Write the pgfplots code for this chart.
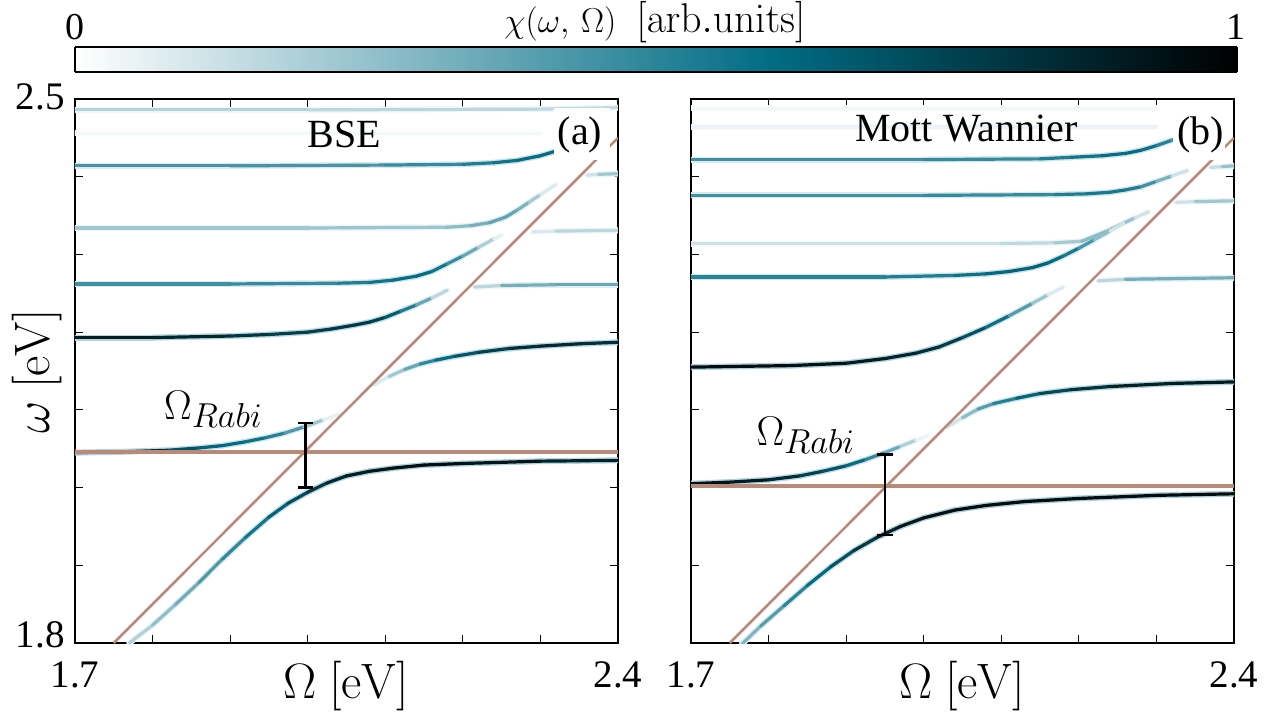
\documentclass[border=0pt]{standalone}
\usepackage[no-math]{fontspec}
\setmainfont{Liberation Serif}
\usepackage{pgfplots}
\usepackage{pgfplotstable}
\pgfplotsset{compat=1.18}
\definecolor{brn}{RGB}{183,138,122}
\pgfplotsset{colormap={chi}{rgb255(0cm)=(255,255,255) rgb255(6cm)=(0,108,132) rgb255(10cm)=(0,0,0)}}
\newcommand\tf{\fontsize{19.5}{22}\selectfont}
\newcommand\pf{\fontsize{20}{23}\selectfont}
\newcommand\lf{\fontsize{25}{28}\selectfont}
\newcommand\rabi{{\fontsize{20}{22}\selectfont$\Omega$}\raisebox{-4pt}{\fontsize{18.5}{20}\selectfont$Rabi$}}

% ---------- panel (a): BSE ----------
\pgfplotstableread{
x y c
1.70 2.486 0.18
2.00 2.486 0.18
2.30 2.487 0.15
2.40 2.489 0.15
}\aA
\pgfplotstableread{
x y c
1.70 2.456 0.03
2.30 2.456 0.03
}\aB
\pgfplotstableread{
x y c
1.70 2.414 0.45
1.90 2.414 0.42
2.10 2.415 0.45
2.20 2.416 0.50
2.24 2.418 0.55
2.27 2.421 0.58
2.30 2.427 0.60
2.32 2.433 0.58
2.34 2.441 0.50
2.36 2.451 0.35
2.38 2.463 0.20
}\aC
\pgfplotstableread{
x y c
2.36 2.402 0.03
2.375 2.403 0.20
2.40 2.404 0.25
}\aCr
\pgfplotstableread{
x y c
1.70 2.334 0.22
2.00 2.334 0.22
2.18 2.335 0.25
2.21 2.337 0.30
2.235 2.341 0.35
2.255 2.348 0.40
2.27 2.357 0.35
2.285 2.367 0.28
2.30 2.377 0.15
2.32 2.390 0.02
}\aD
\pgfplotstableread{
x y c
2.29 2.329 0.03
2.32 2.330 0.15
2.40 2.331 0.18
}\aDr
\pgfplotstableread{
x y c
1.70 2.262 0.45
1.90 2.262 0.45
2.04 2.263 0.50
2.08 2.264 0.55
2.11 2.267 0.58
2.14 2.272 0.60
2.16 2.278 0.60
2.18 2.288 0.52
2.20 2.298 0.42
2.22 2.309 0.28
2.24 2.320 0.10
2.25 2.325 0.02
}\aE
\pgfplotstableread{
x y c
2.215 2.258 0.03
2.25 2.260 0.30
2.32 2.261 0.35
2.40 2.261 0.35
}\aEr
\pgfplotstableread{
x y c
1.70 2.193 0.88
1.80 2.193 0.90
1.90 2.195 0.82
1.95 2.197 0.78
2.00 2.200 0.75
2.03 2.204 0.78
2.06 2.209 0.80
2.08 2.213 0.78
2.10 2.219 0.72
2.12 2.227 0.60
2.14 2.235 0.45
2.16 2.244 0.28
2.18 2.254 0.03
}\aF
\pgfplotstableread{
x y c
2.085 2.132 0.02
2.105 2.143 0.15
2.125 2.152 0.30
2.145 2.159 0.42
2.165 2.164 0.55
2.19 2.169 0.65
2.22 2.174 0.72
2.26 2.179 0.80
2.30 2.182 0.85
2.35 2.185 0.85
2.40 2.187 0.80
}\aG
\pgfplotstableread{
x y c
1.70 2.045 0.95
1.76 2.046 0.90
1.82 2.048 0.75
1.86 2.051 0.65
1.89 2.054 0.60
1.92 2.059 0.60
1.945 2.064 0.55
1.97 2.070 0.48
1.995 2.078 0.35
2.02 2.087 0.12
2.04 2.094 0.00
}\aH
\pgfplotstableread{
x y c
1.77 1.800 0.15
1.80 1.823 0.22
1.83 1.850 0.30
1.86 1.878 0.38
1.89 1.908 0.45
1.92 1.936 0.52
1.95 1.962 0.60
1.975 1.980 0.68
2.00 1.994 0.75
2.025 2.006 0.82
2.05 2.015 0.88
2.08 2.021 0.90
2.11 2.025 0.93
2.15 2.029 0.95
2.20 2.031 0.95
2.30 2.034 0.90
2.40 2.035 0.85
}\aI

% ---------- panel (b): Mott Wannier ----------
\pgfplotstableread{
x y c
1.70 2.488 0.03
2.30 2.488 0.03
}\bA
\pgfplotstableread{
x y c
1.70 2.464 0.05
2.30 2.464 0.05
}\bB
\pgfplotstableread{
x y c
1.70 2.422 0.45
2.00 2.422 0.45
2.15 2.423 0.50
2.19 2.425 0.55
2.23 2.427 0.58
2.26 2.430 0.60
2.28 2.434 0.60
2.30 2.440 0.55
2.32 2.447 0.48
2.34 2.457 0.38
2.36 2.470 0.20
}\bC
\pgfplotstableread{
x y c
2.37 2.412 0.03
2.385 2.413 0.25
2.40 2.414 0.25
}\bCr
\pgfplotstableread{
x y c
1.70 2.376 0.45
2.00 2.376 0.45
2.17 2.377 0.50
2.21 2.378 0.55
2.24 2.380 0.55
2.26 2.383 0.55
2.28 2.387 0.50
2.30 2.394 0.40
2.32 2.401 0.22
2.34 2.408 0.02
}\bD
\pgfplotstableread{
x y c
2.325 2.367 0.03
2.35 2.368 0.20
2.40 2.369 0.25
}\bDr
\pgfplotstableread{
x y c
1.70 2.314 0.12
2.10 2.314 0.12
2.17 2.315 0.18
2.204 2.317 0.25
2.236 2.330 0.30
2.272 2.347 0.20
2.29 2.355 0.02
}\bE
\pgfplotstableread{
x y c
1.70 2.271 0.50
1.95 2.271 0.50
2.04 2.273 0.55
2.08 2.275 0.60
2.11 2.278 0.62
2.14 2.283 0.65
2.16 2.289 0.62
2.18 2.298 0.58
2.20 2.308 0.50
2.22 2.319 0.35
2.24 2.330 0.18
2.258 2.340 0.03
}\bF
\pgfplotstableread{
x y c
2.225 2.266 0.03
2.26 2.268 0.30
2.40 2.270 0.35
}\bFr
\pgfplotstableread{
x y c
1.70 2.155 0.95
1.83 2.157 0.95
1.90 2.160 0.92
1.95 2.166 0.88
1.99 2.173 0.85
2.02 2.181 0.80
2.05 2.193 0.75
2.08 2.206 0.65
2.11 2.221 0.50
2.14 2.237 0.32
2.16 2.248 0.15
2.18 2.258 0.02
}\bG
\pgfplotstableread{
x y c
2.03 2.078 0.02
2.05 2.090 0.20
2.07 2.101 0.35
2.09 2.108 0.45
2.12 2.115 0.58
2.15 2.121 0.68
2.19 2.126 0.78
2.24 2.130 0.85
2.32 2.134 0.90
2.40 2.136 0.90
}\bH
\pgfplotstableread{
x y c
1.70 2.005 0.95
1.75 2.007 0.92
1.80 2.010 0.88
1.84 2.015 0.80
1.87 2.021 0.72
1.90 2.028 0.65
1.925 2.036 0.55
1.95 2.045 0.42
1.97 2.053 0.28
1.99 2.061 0.10
2.005 2.067 0.00
}\bI
\pgfplotstableread{
x y c
1.765 1.798 0.25
1.79 1.822 0.35
1.82 1.848 0.45
1.85 1.874 0.55
1.88 1.898 0.65
1.91 1.919 0.75
1.94 1.936 0.85
1.97 1.950 0.90
2.00 1.961 0.92
2.04 1.971 0.95
2.08 1.977 0.95
2.13 1.982 0.95
2.20 1.986 0.95
2.30 1.990 0.95
2.40 1.992 0.95
}\bJ

\newcommand\glow[1]{\addplot[mesh, line width=3pt, line cap=round, point meta={0.2*\thisrow{c}}] table[x=x,y=y] {#1};}
\newcommand\core[1]{\addplot[mesh, line width=1.6pt, line cap=round, point meta={\thisrow{c}}] table[x=x,y=y] {#1};}

\pgfplotsset{panel/.style={
  scale only axis, width=271.5pt, height=272pt, anchor=south west,
  xmin=1.7, xmax=2.4, ymin=1.8, ymax=2.5,
  xtick={1.7,1.8,1.9,2.0,2.1,2.2,2.3,2.4},
  ytick={1.8,1.9,2.0,2.1,2.2,2.3,2.4,2.5},
  xticklabel=\empty, yticklabel=\empty,
  tick align=inside, major tick length=4pt,
  tick style={black, line width=0.6pt},
  axis line style={line width=0.8pt},
  colormap name=chi, point meta min=0, point meta max=1,
  clip mode=individual,
}}

\begin{document}
\begin{tikzpicture}
\path[use as bounding box] (-37.5pt,-38pt) rectangle (599pt,321.5pt);

% ================= colour bar =================
\begin{axis}[at={(0pt,285.5pt)}, anchor=south west, scale only axis,
  width=581pt, height=12.5pt, xmin=0, xmax=1, ymin=0, ymax=1,
  view={0}{90}, xtick=\empty, ytick=\empty, ztick=\empty,
  colormap name=chi, point meta min=0, point meta max=1,
  axis line style={line width=0.8pt}, axis on top]
\addplot3[surf, shader=interp, point meta=x, mesh/rows=2, mesh/cols=3]
  coordinates {(0,0,0) (0.6,0,0) (1,0,0) (0,1,0) (0.6,1,0) (1,1,0)};
\end{axis}

% ================= panel (a) =================
\begin{axis}[panel, at={(0pt,0pt)}]
\glow{\aA}\glow{\aB}\glow{\aC}\glow{\aCr}\glow{\aD}\glow{\aDr}\glow{\aE}\glow{\aEr}\glow{\aF}\glow{\aG}\glow{\aH}\glow{\aI}
\core{\aA}\core{\aB}\core{\aC}\core{\aCr}\core{\aD}\core{\aDr}\core{\aE}\core{\aEr}\core{\aF}\core{\aG}\core{\aH}\core{\aI}
\addplot[brn, line width=1.9pt] coordinates {(1.7,2.0456) (2.4,2.0456)};
\addplot[brn, line width=1.3pt] coordinates {(1.75,1.8) (2.4,2.45)};
\addplot[black, line width=1.4pt] coordinates {(1.997,2.0) (1.997,2.083)};
\addplot[black, line width=1.4pt] coordinates {(1.987,2.0) (2.007,2.0)};
\addplot[black, line width=1.4pt] coordinates {(1.987,2.083) (2.007,2.083)};
\fill[white] (axis cs:2.317,2.4216) rectangle (axis cs:2.39,2.488);
\node[font=\pf, anchor=base] at (axis cs:2.351,2.441) {(a)};
\node[font=\pf, anchor=base] at (axis cs:2.047,2.437) {BSE};
\node[anchor=base west, inner sep=0pt] at (axis cs:1.8145,2.088) {\rabi};
\node[font=\tf, anchor=base east, inner sep=0pt, xshift=-5pt, yshift=-2pt] at (rel axis cs:0,0) {1.8};
\node[font=\tf, anchor=base east, inner sep=0pt, xshift=-5pt, yshift=-5pt] at (rel axis cs:0,1) {2.5};
\node[font=\tf, anchor=base, inner sep=0pt, yshift=-22pt] at (rel axis cs:0,0) {1.7};
\node[font=\tf, anchor=base, inner sep=0pt, yshift=-22pt] at (rel axis cs:1,0) {2.4};
\node[font=\lf, anchor=base, inner sep=0pt, yshift=-27.5pt] at (rel axis cs:0.5,0) {$\Omega\ [\mathrm{eV}]$};
\node[font=\lf, anchor=base, inner sep=0pt, rotate=90] at ([xshift=-12.5pt]rel axis cs:0,0.5) {$\omega\ [\mathrm{eV}]$};
\end{axis}

% ================= panel (b) =================
\begin{axis}[panel, at={(308pt,0pt)}]
\glow{\bA}\glow{\bB}\glow{\bC}\glow{\bCr}\glow{\bD}\glow{\bDr}\glow{\bE}\glow{\bF}\glow{\bFr}\glow{\bG}\glow{\bH}\glow{\bI}\glow{\bJ}
\core{\bA}\core{\bB}\core{\bC}\core{\bCr}\core{\bD}\core{\bDr}\core{\bE}\core{\bF}\core{\bFr}\core{\bG}\core{\bH}\core{\bI}\core{\bJ}
\addplot[brn, line width=1.9pt] coordinates {(1.7,2.002) (2.4,2.002)};
\addplot[brn, line width=1.3pt] coordinates {(1.75,1.8) (2.4,2.45)};
\addplot[black, line width=1.4pt] coordinates {(1.95,1.939) (1.95,2.043)};
\addplot[black, line width=1.4pt] coordinates {(1.94,1.939) (1.96,1.939)};
\addplot[black, line width=1.4pt] coordinates {(1.94,2.043) (1.96,2.043)};
\fill[white] (axis cs:2.321,2.422) rectangle (axis cs:2.388,2.484);
\node[font=\pf, anchor=base] at (axis cs:2.357,2.441) {(b)};
\node[font=\pf, anchor=base] at (axis cs:2.055,2.445) {Mott Wannier};
\node[anchor=base west, inner sep=0pt] at (axis cs:1.784,2.054) {\rabi};
\node[font=\tf, anchor=base, inner sep=0pt, yshift=-22pt] at (rel axis cs:0,0) {1.7};
\node[font=\tf, anchor=base, inner sep=0pt, yshift=-22pt] at (rel axis cs:1,0) {2.4};
\node[font=\lf, anchor=base, inner sep=0pt, yshift=-27.5pt] at (rel axis cs:0.5,0) {$\Omega\ [\mathrm{eV}]$};
\end{axis}

% colorbar labels
\node[font=\fontsize{19}{22}\selectfont, anchor=base, inner sep=0pt] at (0pt,301.5pt) {0};
\node[font=\fontsize{19}{22}\selectfont, anchor=base, inner sep=0pt] at (580.5pt,301.5pt) {1};
\node[anchor=base, inner sep=0pt] at (290pt,305pt) {{\fontsize{18}{22}\selectfont$\chi(\omega,\,\Omega)$}\hspace{10pt}{\fontsize{20.5}{22}\selectfont$[\mathrm{arb.units}]$}};
\end{tikzpicture}
\end{document}
